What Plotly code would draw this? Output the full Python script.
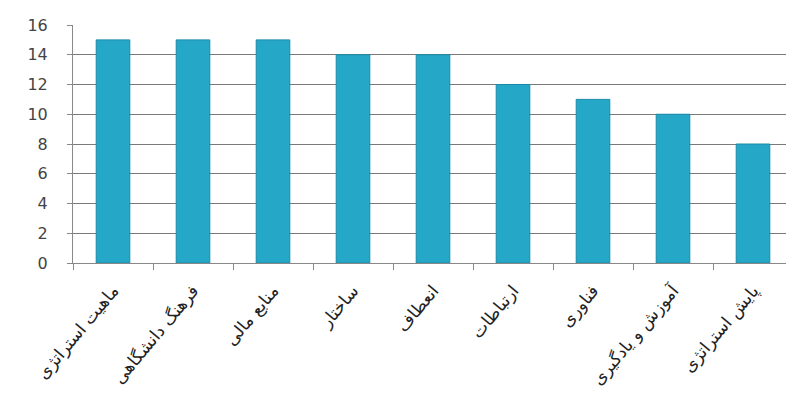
import plotly.graph_objects as go

categories = ["ماهیت استراتژی", "فرهنگ دانشگاهی", "منابع مالی", "ساختار", "انعطاف",
              "ارتباطات", "فناوری", "آموزش و یادگیری", "پایش استراتژی"]
values = [15, 15, 15, 14, 14, 12, 11, 10, 8]
y_ticks = [0, 2, 4, 6, 8, 10, 12, 14, 16]

fig = go.Figure()
fig.add_trace(go.Bar(
    x=categories, y=values, width=0.42,
    marker=dict(color="#25a7c8", line=dict(color="#1a8aa8", width=1)),
))
fig.update_layout(
    width=786, height=399,
    margin=dict(l=65, r=1, t=17, b=144),
    paper_bgcolor="white", plot_bgcolor="white",
    showlegend=False,
    font=dict(family="DejaVu Sans", color="#333"),
)
fig.update_yaxes(range=[0, 16], tickvals=y_ticks, showgrid=True, gridcolor="#7a7a7a", gridwidth=1,
                 showline=True, linecolor="#888", ticks="outside", ticklen=5, tickcolor="#888",
                 tickfont=dict(size=16, family="DejaVu Sans", color="#444"), zeroline=False,
                 automargin=False, ticklabelstandoff=16)
fig.update_xaxes(showline=True, linecolor="#888", ticks="outside", tickson="boundaries", ticklen=6,
                 tickcolor="#888", tickangle=-50, automargin=False, ticklabelstandoff=10,
                 tickfont=dict(size=17, family="DejaVu Sans", color="#222"))
fig.write_html("out.html")
